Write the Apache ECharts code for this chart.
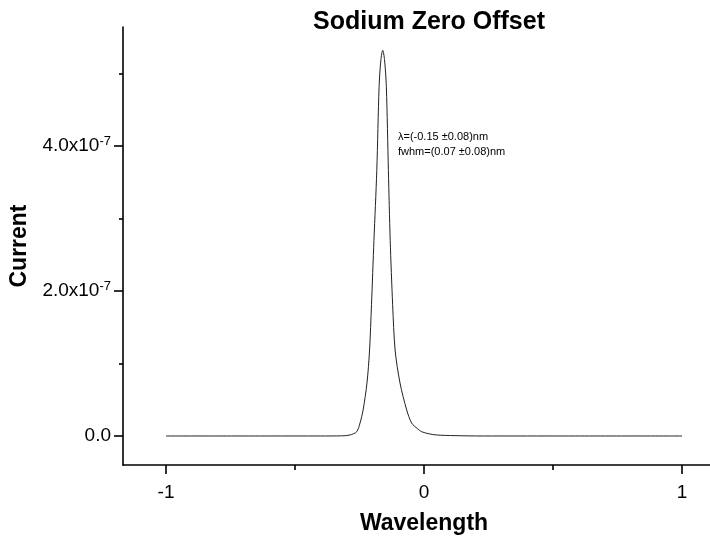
<!DOCTYPE html>
<html>
<head>
<meta charset="utf-8">
<script src="https://cdn.jsdelivr.net/npm/echarts@6/dist/echarts.min.js"></script>
<style>html,body{margin:0;padding:0;background:#fff;overflow:hidden;width:710px;height:541px}#c{width:725px;height:541px}</style>
</head>
<body>
<div id="c"></div>
<script>
// Data
const wavelength = [-1.0, -0.6, -0.40, -0.32, -0.287, -0.261, -0.248, -0.236, -0.221, -0.211, -0.2035, -0.194, -0.183, -0.174, -0.167, -0.160, -0.153, -0.146, -0.138, -0.131, -0.1215, -0.112, -0.093, -0.067, -0.048, -0.025, -0.009, 0.02, 0.049, 0.12, 0.23, 0.5, 1.0];
const current = [0, 0, 0, 0.002e-7, 0.014e-7, 0.059e-7, 0.179e-7, 0.359e-7, 0.731e-7, 1.186e-7, 1.81e-7, 2.70e-7, 3.66e-7, 4.82e-7, 5.19e-7, 5.32e-7, 5.19e-7, 4.82e-7, 3.66e-7, 2.70e-7, 1.81e-7, 1.186e-7, 0.731e-7, 0.359e-7, 0.179e-7, 0.10e-7, 0.059e-7, 0.03e-7, 0.014e-7, 0.005e-7, 0, 0, 0];
const xMajorTicks = [-1, 0, 1];
const xMinorTicks = [-0.5, 0.5];
const yMajorTicks = [0, 2e-7, 4e-7];
const yMinorTicks = [1e-7, 3e-7, 5e-7];
const titleText = 'Sodium Zero Offset';
const xName = 'Wavelength';
const yName = 'Current';
const annotLines = ['\u03bb=(-0.15 \u00b10.08)nm', 'fwhm=(0.07 \u00b10.08)nm'];

const XMIN = -1.1667, XMAX = 1.1667, YMIN = -0.4e-7, YMAX = 5.641e-7;
const FONT = '"Liberation Sans", Arial, sans-serif';
const axisLineStyle = {color: '#000', width: 1.6};

const chart = echarts.init(document.getElementById('c'), null, {renderer: 'canvas'});
const pts = wavelength.map((x, i) => [x, current[i]]);

function yFmt(v) {
  if (Math.abs(v) < 1e-12) return '{a|0.0}';
  return '{a|' + (v * 1e7).toFixed(1) + 'x10}{s|-7}';
}

chart.setOption({
  animation: false,
  backgroundColor: '#fff',
  title: {
    text: titleText, left: 424, top: 5, textAlign: 'center',
    textStyle: {fontFamily: FONT, fontSize: 25, fontWeight: 'bold', color: '#000'}
  },
  grid: {left: 123, top: 27, right: 0, bottom: 76, containLabel: false},
  xAxis: [
    {
      type: 'value', min: XMIN, max: XMAX, position: 'bottom',
      name: xName, nameLocation: 'middle', nameGap: 47,
      nameTextStyle: {fontFamily: FONT, fontSize: 23, fontWeight: 'bold', color: '#000'},
      axisLine: {show: true, onZero: false, lineStyle: axisLineStyle},
      axisTick: {show: true, customValues: xMajorTicks, length: 9, inside: false, lineStyle: {color: '#000', width: 1.6}},
      axisLabel: {show: true, customValues: xMajorTicks, margin: 18, fontFamily: FONT, fontSize: 19, color: '#000',
        formatter: v => String(Math.round(v))},
      splitLine: {show: false}
    },
    {
      type: 'value', min: XMIN, max: XMAX, position: 'bottom', offset: 0,
      axisLine: {show: false, onZero: false},
      axisTick: {show: true, customValues: xMinorTicks, length: 5, lineStyle: {color: '#000', width: 1.6}},
      axisLabel: {show: false},
      splitLine: {show: false}
    }
  ],
  yAxis: [
    {
      type: 'value', min: YMIN, max: YMAX, position: 'left',
      name: yName, nameLocation: 'middle', nameGap: 83, nameRotate: 90,
      nameTextStyle: {fontFamily: FONT, fontSize: 23, fontWeight: 'bold', color: '#000'},
      axisLine: {show: true, onZero: false, lineStyle: axisLineStyle},
      axisTick: {show: true, customValues: yMajorTicks, length: 9, lineStyle: {color: '#000', width: 1.6}},
      axisLabel: {show: true, customValues: yMajorTicks, margin: 12, formatter: yFmt,
        rich: {
          a: {fontFamily: FONT, fontSize: 19, color: '#000'},
          s: {fontFamily: FONT, fontSize: 13, color: '#000', verticalAlign: 'top', padding: [0, 0, 10, 0]}
        }},
      splitLine: {show: false}
    },
    {
      type: 'value', min: YMIN, max: YMAX, position: 'left', offset: 0,
      axisLine: {show: false, onZero: false},
      axisTick: {show: true, customValues: yMinorTicks, length: 4, lineStyle: {color: '#000', width: 1.6}},
      axisLabel: {show: false},
      splitLine: {show: false}
    }
  ],
  graphic: [
    {type: 'text', left: 398, top: 131, style: {text: annotLines[0], font: '11px ' + FONT, fill: '#000'}},
    {type: 'text', left: 398, top: 146, style: {text: annotLines[1], font: '11px ' + FONT, fill: '#000'}}
  ],
  series: [{
    type: 'line', xAxisIndex: 0, yAxisIndex: 0, data: pts,
    showSymbol: false, smooth: 0.3,
    lineStyle: {color: '#222', width: 1},
    silent: true
  }]
});
</script>
</body>
</html>
